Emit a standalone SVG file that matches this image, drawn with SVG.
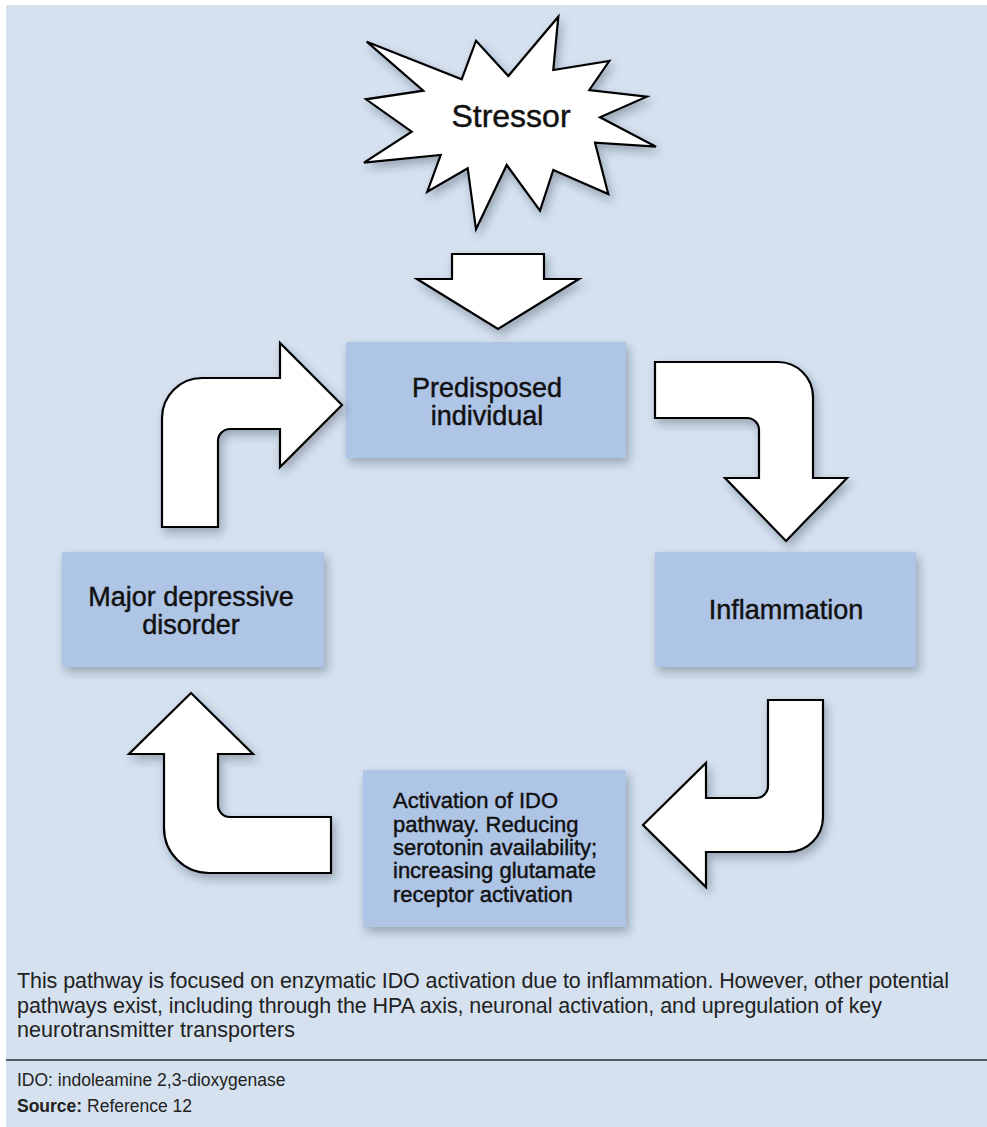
<svg xmlns="http://www.w3.org/2000/svg" width="987" height="1127" viewBox="0 0 987 1127">
<defs>
<filter id="sh" x="-20%" y="-20%" width="150%" height="150%">
<feDropShadow dx="3" dy="5" stdDeviation="5" flood-color="#1a2a40" flood-opacity="0.33"/>
</filter>
<style>
.bg{fill:#d5e1ef}
.box{fill:#afc5e6;filter:url(#sh)}
.shape{fill:#ffffff;stroke:#000;stroke-width:2.2;stroke-linejoin:miter;filter:url(#sh)}
.lbl{font-family:"Liberation Sans",Arial,sans-serif;fill:#111;stroke:#111;stroke-width:0.45}
.big{font-size:27px;text-anchor:middle}
.act{font-size:22px}
.cap{font-family:"Liberation Sans",Arial,sans-serif;fill:#222;font-size:21.5px}
.foot{font-family:"Liberation Sans",Arial,sans-serif;fill:#222;font-size:17.5px}
</style>
</defs>
<rect x="0" y="0" width="987" height="1127" fill="#ffffff"/>
<rect class="bg" x="6" y="5" width="981" height="1122"/>

<g id="stressor">
<polygon class="shape" points="366.7,41.7 461.7,79.3 476,40.7 508.3,76 558.3,16.7 553.3,70 609.3,61 589.3,90 646.7,96.7 600,117.3 656,146.7 595,142.7 608.3,194 553.3,170 540,210.7 506.7,165 476,229.3 467.7,168.3 427.3,191.7 440.7,155 364,162.7 411.7,131.7 366,99.3 423.3,90.7"/>
<text class="lbl" x="511" y="127" font-size="32" text-anchor="middle">Stressor</text>
</g>

<g id="predisposed">
<rect class="box" x="346" y="342" width="280" height="116"/>
<text class="lbl big" x="487" y="397">Predisposed</text>
<text class="lbl big" x="487" y="425">individual</text>
</g>

<g id="inflammation">
<rect class="box" x="655" y="552" width="261" height="115"/>
<text class="lbl big" x="786" y="619">Inflammation</text>
</g>

<g id="mdd">
<rect class="box" x="62" y="552" width="262" height="115"/>
<text class="lbl big" x="191" y="606">Major depressive</text>
<text class="lbl big" x="191" y="634">disorder</text>
</g>

<g id="activation">
<rect class="box" x="363" y="770" width="263" height="157"/>
<text class="lbl act" x="393" y="808">Activation of IDO</text>
<text class="lbl act" x="393" y="832">pathway. Reducing</text>
<text class="lbl act" x="393" y="855">serotonin availability;</text>
<text class="lbl act" x="393" y="878">increasing glutamate</text>
<text class="lbl act" x="393" y="902">receptor activation</text>
</g>

<g id="connectors">
<path class="shape" d="M452,254 L544,254 L544,279 L579,279 L498,329 L417,279 L452,279 Z"/>
<path class="shape" d="M655,362 L778,362 A35,35 0 0 1 813,397 L813,478 L847,478 L786,541 L725,478 L759,478 L759,430 A12,12 0 0 0 747,418 L655,418 Z"/>
<path class="shape" d="M768,700 L823,700 L823,817 A35,35 0 0 1 788,852 L706,852 L706,887 L643,825 L706,763 L706,798 L756,798 A12,12 0 0 0 768,786 Z"/>
<path class="shape" d="M331,817 L331,873 L209,873 A45,45 0 0 1 164,828 L164,754 L129,754 L191,693 L253,754 L218,754 L218,805 A12,12 0 0 0 230,817 Z"/>
<path class="shape" d="M162,527 L162,418 A40,40 0 0 1 202,378 L280,378 L280,343 L342,405 L280,467 L280,429 L230,429 A12,12 0 0 0 218,441 L218,527 Z"/>
</g>

<g id="caption">
<text class="cap" x="17" y="988" textLength="932">This pathway is focused on enzymatic IDO activation due to inflammation. However, other potential</text>
<text class="cap" x="17" y="1012.5" textLength="865">pathways exist, including through the HPA axis, neuronal activation, and upregulation of key</text>
<text class="cap" x="17" y="1037" textLength="278">neurotransmitter transporters</text>
<line x1="6" y1="1060" x2="987" y2="1060" stroke="#555b63" stroke-width="2"/>
<text class="foot" x="17" y="1085.5">IDO: indoleamine 2,3-dioxygenase</text>
<text class="foot" x="17" y="1111.5"><tspan font-weight="bold">Source:</tspan> Reference 12</text>
</g>
</svg>
